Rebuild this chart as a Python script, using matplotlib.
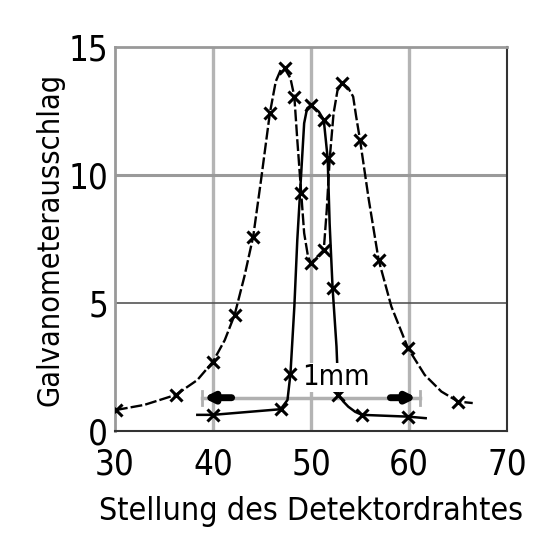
import matplotlib
matplotlib.use("Agg")
import matplotlib.pyplot as plt

plt.rcParams['font.family'] = ['DejaVu Sans']
plt.rcParams['font.stretch'] = 'condensed'

# Messpunkte mit Magnetfeld (gestrichelte Kurve)
feld_x = [30.1, 36.2, 40.0, 42.2, 44.1, 45.8, 47.3, 48.3, 49.0, 50.0, 51.3,
          53.2, 55.0, 56.9, 59.9, 65.0]
feld_y = [0.82, 1.41, 2.71, 4.53, 7.59, 12.41, 14.17, 13.06, 9.29, 6.55, 7.07,
          13.58, 11.37, 6.68, 3.23, 1.15]
# Kurvenverlauf
feld_kurve_x = [30.1, 33.0, 36.2, 38.4, 40.0, 41.2, 42.2, 43.2, 44.1, 44.9, 45.8,
                46.4, 46.9, 47.3, 47.9, 48.3, 48.6, 49.0, 49.3, 49.7, 50.0, 50.6,
                51.3, 51.6, 51.9, 52.3, 52.7, 53.2, 53.8, 54.3, 54.6, 55.0, 55.9,
                56.9, 58.2, 59.9, 61.6, 63.3, 65.0, 66.5]
feld_kurve_y = [0.82, 1.02, 1.41, 1.99, 2.71, 3.55, 4.53, 6.03, 7.59, 9.8, 12.41,
                13.65, 14.1, 14.17, 13.78, 13.06, 11.37, 9.29, 7.73, 6.8, 6.55, 6.8,
                7.07, 8.6, 10.6, 12.4, 13.3, 13.58, 13.4, 13.06, 12.3, 11.37, 9.02,
                6.68, 4.86, 3.23, 2.19, 1.54, 1.15, 1.09]

# Messpunkte ohne Magnetfeld (durchgezogene Kurve)
ohne_x = [40.0, 46.9, 47.9, 50.0, 51.3, 51.7, 52.2, 52.8, 55.2, 59.9]
ohne_y = [0.63, 0.85, 2.22, 12.73, 12.15, 10.65, 5.6, 1.4, 0.63, 0.56]
ohne_kurve_x = [38.4, 40.0, 46.9, 47.6, 47.9, 48.3, 48.6, 49.0, 49.3, 49.6, 50.0,
                50.8, 51.3, 51.7, 51.9, 52.2, 52.6, 52.8, 53.3, 53.8, 54.5, 55.2,
                59.9, 61.7]
ohne_kurve_y = [0.63, 0.63, 0.85, 1.21, 2.22, 4.86, 7.46, 10.07, 12.02, 12.6, 12.73,
                12.47, 12.15, 10.65, 8.1, 5.6, 3.3, 1.4, 1.15, 0.95, 0.75, 0.63,
                0.56, 0.5]

x_ticks = [30, 40, 50, 60, 70]
y_ticks = [0, 5, 10, 15]

fig = plt.figure(figsize=(5.51, 5.60), dpi=100)
ax = fig.add_axes([0.2087, 0.2304, 0.7115, 0.6857])

ax.set_xlim(30, 70)
ax.set_ylim(0, 15)
ax.set_xticks(x_ticks)
ax.set_yticks(y_ticks)
ax.tick_params(length=0, labelsize=25)
ax.tick_params(axis='x', pad=12)
ax.tick_params(axis='y', pad=5)

# Gitter
for gx in [40, 50, 60]:
    ax.axvline(gx, color='#b4b4b4', lw=2.4, zorder=0)
ax.axhline(10, color='#9a9a9a', lw=2.2, zorder=0)
ax.axhline(5, color='#555555', lw=1.2, zorder=0)

for s in ['left', 'top']:
    ax.spines[s].set_color('#999999')
    ax.spines[s].set_linewidth(2.0)
for s in ['right', 'bottom']:
    ax.spines[s].set_color('#333333')
    ax.spines[s].set_linewidth(1.5)

# Kurven
ax.plot(feld_kurve_x, feld_kurve_y, color='black', lw=1.7, dashes=(5, 1.3), zorder=3)
ax.plot(feld_x, feld_y, ls='none', marker='x', ms=8, mew=2.2, color='black', zorder=4)
ax.plot(ohne_kurve_x, ohne_kurve_y, color='black', lw=1.8, zorder=3)
ax.plot(ohne_x, ohne_y, ls='none', marker='x', ms=8, mew=2.2, color='black', zorder=4)

# Massstab 1mm
ax.plot([38.9, 61.1], [1.3, 1.3], color='#b0b0b0', lw=2.5, zorder=2)
ax.plot([38.9, 38.9], [1.0, 1.55], color='#b0b0b0', lw=2, zorder=2)
ax.plot([61.1, 61.1], [1.0, 1.55], color='#b0b0b0', lw=2, zorder=2)
ax.annotate('', xy=(39.0, 1.3), xytext=(41.9, 1.3),
            arrowprops=dict(arrowstyle='-|>,head_length=0.5,head_width=0.25',
                            lw=5, color='black', shrinkA=0, shrinkB=0), zorder=3)
ax.annotate('', xy=(60.8, 1.3), xytext=(58.1, 1.3),
            arrowprops=dict(arrowstyle='-|>,head_length=0.5,head_width=0.25',
                            lw=5, color='black', shrinkA=0, shrinkB=0), zorder=3)
ax.text(49.1, 2.1, '1mm', fontsize=21, ha='left', va='center', zorder=5,
        bbox=dict(facecolor='white', edgecolor='none', pad=0.5))

ax.set_xlabel('Stellung des Detektordrahtes', fontsize=23, labelpad=10)
ax.set_ylabel('Galvanometerausschlag', fontsize=22, labelpad=3)

plt.savefig('out.png', dpi=100)
